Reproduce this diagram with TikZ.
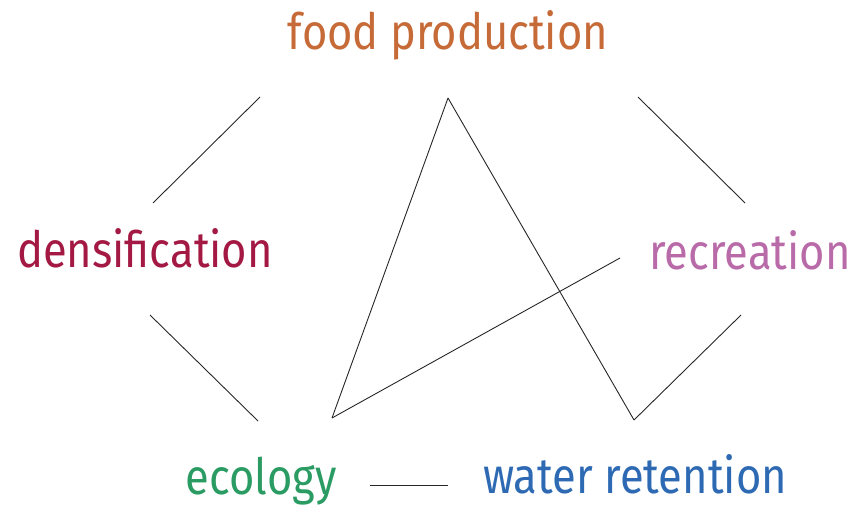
\documentclass[tikz,border=0pt]{standalone}
\usepackage{fontspec}
\setmainfont{Fira Sans}[FakeStretch=0.87]
\definecolor{foodcol}{HTML}{C66A38}
\definecolor{denscol}{HTML}{A31944}
\definecolor{recrcol}{HTML}{B86BA8}
\definecolor{ecolcol}{HTML}{2A9B62}
\definecolor{watercol}{HTML}{2E6AB3}
\tikzset{
  topic/.style={anchor=base, inner sep=0pt, font=\fontsize{50}{50}\selectfont},
  link/.style={draw=black!85, line width=0.9pt}
}
\begin{document}
\begin{tikzpicture}[x=1pt,y=1pt]
                \useasboundingbox (0,0) rectangle (858,509);
                % topics
                \node[topic, text=foodcol] (food) at (448,459) {food production};
                \node[topic, text=denscol] (dens) at (145,241) {densification};
                \node[topic, text=recrcol] (recr) at (750,240) {recreation};
                \node[topic, text=ecolcol] (ecol) at (261,15) {ecology};
                \node[topic, text=watercol] (water) at (635,16) {water retention};
                % ends of the links
                \coordinate (food-l) at (260,412);
                \coordinate (food-m) at (448,411);
                \coordinate (food-r) at (638,412);
                \coordinate (dens-t) at (153,306);
                \coordinate (dens-b) at (150,194);
                \coordinate (recr-t) at (745,306);
                \coordinate (recr-b) at (741,194);
                \coordinate (recr-l) at (620,251);
                \coordinate (ecol-t) at (258,88);
                \coordinate (ecol-m) at (332,91);
                \coordinate (ecol-r) at (370,24);
                \coordinate (water-l) at (448,24);
                \coordinate (water-t) at (634,89);
                % links
                \draw[link] (food-l)--(dens-t);
                \draw[link] (dens-b)--(ecol-t);
                \draw[link] (food-r)--(recr-t);
                \draw[link] (recr-b)--(water-t);
                \draw[link] (ecol-r)--(water-l);
                \draw[link] (food-m)--(ecol-m);
                \draw[link] (food-m)--(water-t);
                \draw[link] (recr-l)--(ecol-m);
                \end{tikzpicture}
\end{document}
